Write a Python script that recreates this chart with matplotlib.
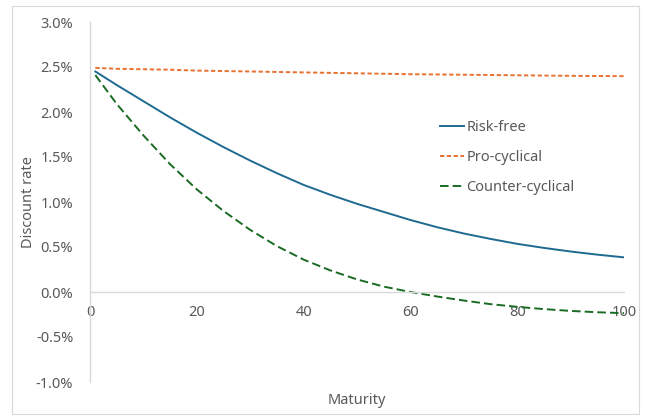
import matplotlib

matplotlib.use("Agg")
import matplotlib.pyplot as plt
from matplotlib.patches import Rectangle
from matplotlib.ticker import FuncFormatter

# maturity (years) and discount rates (%)
maturity = [1, 5, 10, 15, 20, 25, 30, 35, 40, 45, 50,
            55, 60, 65, 70, 75, 80, 85, 90, 95, 100]
risk_free = [2.45, 2.30, 2.12, 1.94, 1.77, 1.61, 1.46, 1.32, 1.19, 1.08, 0.98,
             0.89, 0.80, 0.72, 0.65, 0.59, 0.535, 0.49, 0.45, 0.415, 0.385]
pro_cyclical = [2.49, 2.48, 2.475, 2.47, 2.46, 2.455, 2.45, 2.445, 2.44, 2.435, 2.43,
                2.425, 2.42, 2.417, 2.414, 2.411, 2.408, 2.405, 2.402, 2.40, 2.398]
counter_cyclical = [2.41, 2.09, 1.74, 1.42, 1.14, 0.90, 0.69, 0.51, 0.36, 0.24, 0.14,
                    0.06, 0.00, -0.05, -0.095, -0.135, -0.165, -0.19, -0.21, -0.225, -0.235]

x_ticks = [0, 20, 40, 60, 80, 100]
y_ticks = [-1.0, -0.5, 0.0, 0.5, 1.0, 1.5, 2.0, 2.5, 3.0]

TEXT = "#595959"
AXIS = "#D9D9D9"
plt.rcParams["font.family"] = ["Noto Sans", "DejaVu Sans"]

fig = plt.figure(figsize=(6.48, 4.2), dpi=100)
ax = fig.add_axes([90 / 648, 1 - 382 / 420, 534 / 648, 360 / 420])

# chart-area border
fig.patches.append(Rectangle((12 / 648, 6 / 420), 627 / 648, 408 / 420,
                             transform=fig.transFigure, fill=False,
                             edgecolor=AXIS, lw=0.8))

ax.plot(maturity, risk_free, color="#1F6A91", lw=1.4, label="Risk-free")
ax.plot(maturity, pro_cyclical, color="#E97132", lw=1.4,
        ls=(0, (2.2, 1.3)), label="Pro-cyclical")
ax.plot(maturity, counter_cyclical, color="#196B24", lw=1.4,
        ls=(0, (4.4, 2.1)), label="Counter-cyclical")

ax.set_xlim(0, 100)
ax.set_ylim(-1.0, 3.0)
ax.set_xticks(x_ticks)
ax.set_yticks(y_ticks)
ax.yaxis.set_major_formatter(FuncFormatter(lambda v, _: f"{v:.1f}%"))

for s in ("top", "right"):
    ax.spines[s].set_visible(False)
ax.spines["bottom"].set_position(("data", 0))
ax.spines["bottom"].set_color(AXIS)
ax.spines["left"].set_color(AXIS)
ax.spines["bottom"].set_linewidth(1.0)
ax.spines["left"].set_linewidth(1.0)
ax.tick_params(axis="both", length=0, labelsize=10.5, labelcolor=TEXT)
ax.tick_params(axis="y", pad=12)
ax.tick_params(axis="x", pad=9)

ax.set_ylabel("Discount rate", fontsize=10.5, color=TEXT, labelpad=0)
ax.set_xlabel("Maturity", fontsize=10.5, color=TEXT)
ax.xaxis.set_label_coords(0.5, -0.03)

ax.legend(loc="upper left", bbox_to_anchor=(0.63, 0.765), frameon=False,
          fontsize=10.5, labelcolor=TEXT, handlelength=1.7, handletextpad=0.15,
          labelspacing=1.05)

fig.savefig("out.png", dpi=100)
